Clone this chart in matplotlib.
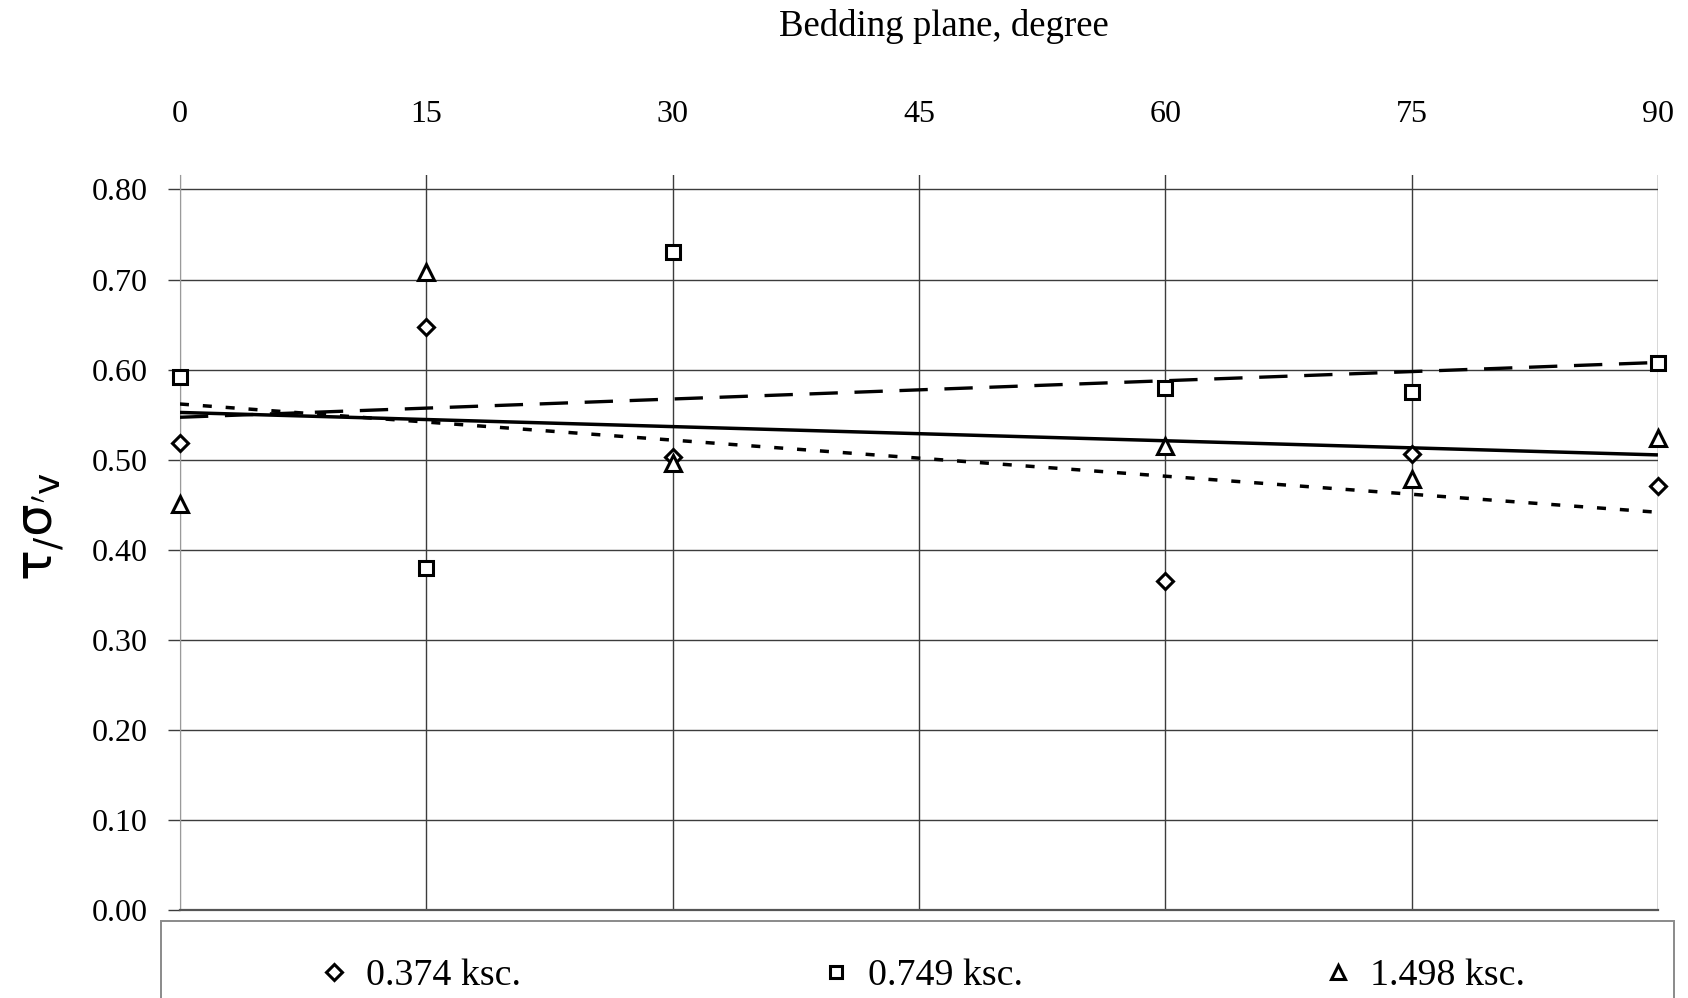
import numpy as np
import matplotlib
matplotlib.use("Agg")
import matplotlib.pyplot as plt
from matplotlib.patches import Rectangle

plt.rcParams["font.family"] = ["Liberation Serif", "DejaVu Serif"]
plt.rcParams["mathtext.fontset"] = "dejavusans"

# Bedding plane angle (degree)
angles = [0, 15, 30, 60, 75, 90]
angle_ticks = [0, 15, 30, 45, 60, 75, 90]

# Shear stress ratio tau / sigma'v for each normal stress
ratio_0374 = [0.518, 0.647, 0.503, 0.365, 0.506, 0.471]
ratio_0749 = [0.592, 0.380, 0.731, 0.580, 0.575, 0.607]
ratio_1498 = [0.451, 0.708, 0.496, 0.515, 0.479, 0.524]

labels = ["0.374 ksc.", "0.749 ksc.", "1.498 ksc."]
y_ticks = [0.0, 0.1, 0.2, 0.3, 0.4, 0.5, 0.6, 0.7, 0.8]

fig = plt.figure(figsize=(16.88, 9.98), dpi=100)
ax = fig.add_axes([0.1066, 0.0882, 0.8756, 0.7364])
ax.set_xlim(0, 90)
ax.set_ylim(0, 0.816)

# grid
for yv in y_ticks:
    ax.axhline(yv, color="#3c3c3c", lw=1.0, zorder=1)
for xv in angle_ticks:
    ax.axvline(xv, color="#3c3c3c" if xv > 0 else "#9a9a9a", lw=1.0, zorder=1)

# linear trend lines
xs = np.array([0, 90], dtype=float)
trend_styles = [
    dict(color="black", lw=2.5, dashes=(2.6, 4.0)),     # 0.374 ksc.
    dict(color="black", lw=2.4, dashes=(8.5, 5.0)),     # 0.749 ksc.
    dict(color="black", lw=2.5, linestyle="-"),         # 1.498 ksc.
]
series = [ratio_0374, ratio_0749, ratio_1498]
for vals, st in zip(series, trend_styles):
    k, b = np.polyfit(angles, vals, 1)
    ax.plot(xs, k * xs + b, zorder=3, solid_capstyle="butt", **st)

# data points
marker_specs = [("D", 8.5), ("s", 9.5), ("^", 11)]
handles = []
for vals, (m, ms), lab in zip(series, marker_specs, labels):
    h, = ax.plot(angles, vals, linestyle="none", marker=m, ms=ms,
                 mfc="white", mec="black", mew=2.2, zorder=5,
                 clip_on=False, label=lab)
    handles.append(h)

# axes styling
for side in ("top", "right"):
    ax.spines[side].set_visible(False)
ax.spines["left"].set_color("#9a9a9a")
ax.spines["bottom"].set_color("#555555")
ax.spines["bottom"].set_linewidth(1.6)

ax.xaxis.tick_top()
ax.set_xticks(angle_ticks)
ax.set_xticklabels([str(a) for a in angle_ticks])
ax.tick_params(axis="x", length=0, pad=33, labelsize=23)

ax.set_yticks(y_ticks)
ax.set_yticklabels([f"{v:.2f}" for v in y_ticks])
ax.tick_params(axis="y", length=9, width=1.0, color="#3c3c3c",
               pad=14, labelsize=23)

ax.xaxis.set_label_position("top")
ax.set_xlabel("Bedding plane, degree", fontsize=26.5, labelpad=46)
ax.xaxis.label.set_x(0.517)

fig.text(41 / 1688, 1 - 527 / 998, r"τ$_{/}$σ$_{'\mathrm{v}}$",
         rotation=90, ha="center", va="center", fontsize=37,
         family=["DejaVu Sans"])

# legend strip under the plot
fig.patches.append(Rectangle((161 / 1688, -0.02), (1674 - 161) / 1688,
                             (998 - 921) / 998 + 0.02,
                             transform=fig.transFigure, fill=False,
                             edgecolor="#8a8a8a", lw=1.4))
fig.legend(handles=handles, labels=labels, loc="center",
           bbox_to_anchor=(0.545, 0.022), ncol=3, frameon=False,
           fontsize=27.3, handlelength=1.0, handletextpad=0.35,
           columnspacing=7.8, markerscale=0.9)

fig.savefig("out.png", dpi=100)
